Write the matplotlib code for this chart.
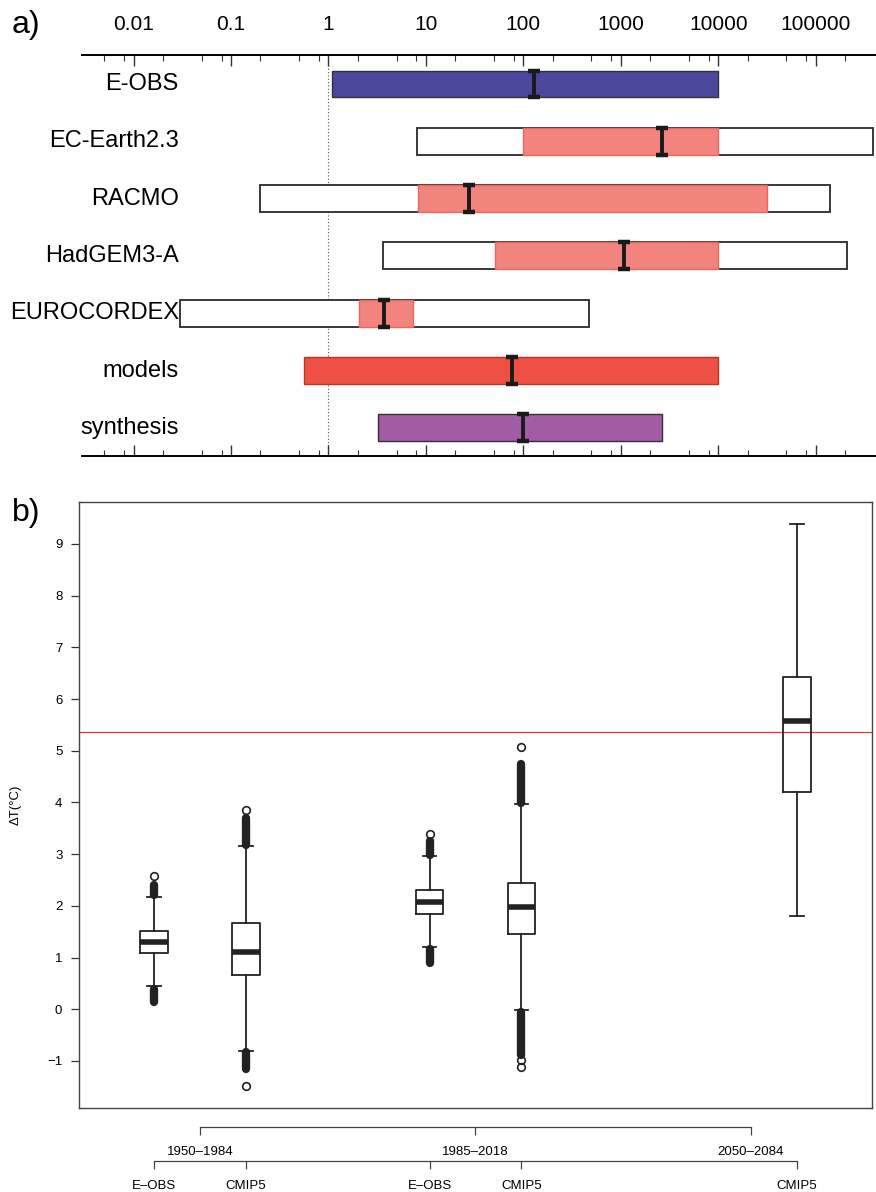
import matplotlib
matplotlib.use('Agg')
import matplotlib.pyplot as plt
from matplotlib.ticker import FixedLocator, LogLocator, NullFormatter

plt.rcParams['font.family'] = ['Liberation Sans', 'DejaVu Sans']

# ---- a) return periods (yr) per dataset ----
names = ['E-OBS', 'EC-Earth2.3', 'RACMO', 'HadGEM3-A', 'EUROCORDEX', 'models', 'synthesis']
best = [130, 2650, 28, 1080, 3.7, 76, 100]
ci_lo = [1.1, 100, 8.4, 51, 2.06, 0.56, 3.2]
ci_hi = [10000, 10000, 32000, 10000, 7.4, 10000, 2650]
# wider (white) ranges, only for the model runs
wide_lo = [None, 8.2, 0.20, 3.6, 0.030, None, None]
wide_hi = [None, 3.9e5, 1.4e5, 2.1e5, 470, None, None]
bar_colors = ['#4a479d', '#f3837d', '#f3837d', '#f3837d', '#f3837d', '#ef5044', '#a25ba5']
edge_colors = ['#333333', '#ec6660', '#ec6660', '#ec6660', '#ec6660', '#b8342a', '#3a2a3a']
top_ticks = [0.01, 0.1, 1, 10, 100, 1000, 10000, 100000]
top_labels = ['0.01', '0.1', '1', '10', '100', '1000', '10000', '100000']

# ---- b) temperature anomalies ----
periods = ['1950\u20131984', '1985\u20132018', '2050\u20132084']
period_pos = [1.5, 4.5, 7.5]
box_names = ['E\u2013OBS', 'CMIP5', 'E\u2013OBS', 'CMIP5', 'CMIP5']
box_pos = [1, 2, 4, 5, 8]
q1 = [1.08, 0.66, 1.85, 1.46, 4.21]
med = [1.31, 1.10, 2.07, 1.97, 5.58]
q3 = [1.52, 1.66, 2.30, 2.45, 6.43]
whis_lo = [0.44, -0.81, 1.20, -0.02, 1.80]
whis_hi = [2.18, 3.15, 2.96, 3.96, 9.38]
# stretches where the outlier circles pile up into a solid column
dense_lo = [(0.14, 0.40), (-1.15, -0.83), (0.90, 1.16), (-0.88, -0.05), None]
dense_hi = [(2.21, 2.40), (3.18, 3.70), (2.99, 3.26), (3.99, 4.75), None]
fliers = [[2.58], [3.86, -1.49], [3.38], [5.08, -0.98, -1.12], []]
threshold = 5.37

W, H = 876, 1192
fig = plt.figure(figsize=(W / 100, H / 100), dpi=100)


def box(x0, y0, x1, y1):
    return [x0 / W, 1 - y1 / H, (x1 - x0) / W, (y1 - y0) / H]


# ================= panel a =================
ax1 = fig.add_axes(box(82, 55, 876, 456))
ax1.set_xscale('log')
ax1.set_xlim(0.00296, 4.16e5)
ax1.set_ylim(6.49, -0.506)
rows = list(range(len(names)))
bh = 0.47

for i in rows:
    if wide_lo[i] is not None:
        ax1.barh(i, wide_hi[i] - wide_lo[i], left=wide_lo[i], height=bh,
                 color='white', edgecolor='#2a2a2a', linewidth=1.3, zorder=2)
    ax1.barh(i, ci_hi[i] - ci_lo[i], left=ci_lo[i], height=bh,
             color=bar_colors[i], edgecolor=edge_colors[i], linewidth=1.0, zorder=3)
    ax1.text(0.122, i, names[i], transform=ax1.get_yaxis_transform(),
             ha='right', va='center', fontsize=17)

ax1.errorbar(best, rows, yerr=bh / 2, fmt='none', ecolor='#1a1a1a',
             elinewidth=2.8, capsize=4, capthick=3.2, zorder=4)
ax1.axvline(1, color='#555555', linestyle=(0, (1, 2)), linewidth=0.8, zorder=1)

for s in ['left', 'right']:
    ax1.spines[s].set_visible(False)
for s in ['top', 'bottom']:
    ax1.spines[s].set_linewidth(1.4)
ax1.set_yticks([])
ax1.xaxis.set_major_locator(FixedLocator(top_ticks))
ax1.set_xticklabels(top_labels)
ax1.xaxis.set_minor_locator(LogLocator(base=10, subs=(2, 5, 8), numticks=20))
ax1.xaxis.set_minor_formatter(NullFormatter())
ax1.tick_params(axis='x', which='both', direction='in', top=True, bottom=True,
                labeltop=True, labelbottom=False, color='#333333')
ax1.tick_params(axis='x', which='major', length=8, width=1.0, labelsize=15, pad=15)
ax1.tick_params(axis='x', which='minor', length=4.5, width=0.8)

fig.text(12 / W, 1 - 25 / H, 'a)', fontsize=23, va='center', ha='left')

# ================= panel b =================
ax2 = fig.add_axes(box(79, 502, 872, 1108))
stats = []
for i in range(len(box_pos)):
    stats.append({'med': med[i], 'q1': q1[i], 'q3': q3[i],
                  'whislo': whis_lo[i], 'whishi': whis_hi[i], 'fliers': fliers[i]})

line_c = '#222222'
ax2.bxp(stats, positions=box_pos, widths=0.3, capwidths=0.15, showfliers=True,
        boxprops=dict(color=line_c, linewidth=1.3),
        whiskerprops=dict(color=line_c, linewidth=1.3),
        capprops=dict(color=line_c, linewidth=1.3),
        medianprops=dict(color=line_c, linewidth=4.0, solid_capstyle='butt'),
        flierprops=dict(marker='o', markersize=5.5, markerfacecolor='none',
                        markeredgecolor=line_c, markeredgewidth=1.2))

for i, x in enumerate(box_pos):
    for run in (dense_lo[i], dense_hi[i]):
        if run is None:
            continue
        ax2.plot([x, x], list(run), color=line_c, linewidth=6,
                 solid_capstyle='round', zorder=3)

ax2.axhline(threshold, color='#e8362c', linewidth=0.9, zorder=1)

ax2.set_xlim(0.18, 8.82)
ax2.set_ylim(-1.91, 9.81)
ax2.set_xticks([])
ax2.set_yticks(range(-1, 10))
ax2.set_yticklabels(['\u22121'] + [str(v) for v in range(0, 10)])
ax2.tick_params(axis='y', direction='out', length=6, width=0.9, labelsize=9.5,
                pad=6, color='#333333')
for s in ax2.spines.values():
    s.set_linewidth(1.0)
    s.set_color('#444444')
ax2.set_ylabel('\u0394T(\u00b0C)', fontsize=9.5)
ax2.yaxis.set_label_coords(-0.072, 0.5)

fig.text(12 / W, 1 - 513 / H, 'b)', fontsize=23, va='center', ha='left')


# two-level category axes below panel b
def category_axis(y_line, ticks, labels, lo, hi):
    axc = fig.add_axes(box(79, y_line - 10, 872, y_line))
    axc.set_xlim(0.18, 8.82)
    axc.patch.set_visible(False)
    for s in ['left', 'right', 'top']:
        axc.spines[s].set_visible(False)
    axc.spines['bottom'].set_bounds(lo, hi)
    axc.spines['bottom'].set_linewidth(0.9)
    axc.spines['bottom'].set_color('#444444')
    axc.set_yticks([])
    axc.set_xticks(ticks)
    axc.set_xticklabels(labels)
    axc.tick_params(axis='x', direction='out', length=6, width=0.9,
                    labelsize=9.5, pad=8, color='#444444')
    return axc


category_axis(1127, period_pos, periods, period_pos[0], period_pos[-1])
category_axis(1161, box_pos, box_names, box_pos[0], box_pos[-1])

fig.savefig('out.png', dpi=100)
